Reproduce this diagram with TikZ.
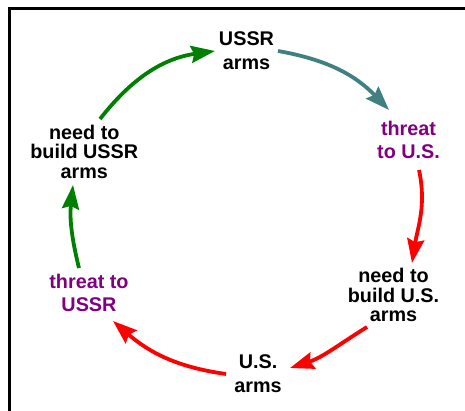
\documentclass[tikz,border=0pt]{standalone}
\usepackage{fontspec}
\setmainfont{Liberation Sans}
\usetikzlibrary{arrows.meta}
\definecolor{dgreen}{RGB}{0,128,0}
\definecolor{teal}{RGB}{64,128,128}
\definecolor{purp}{RGB}{128,0,128}
\definecolor{rred}{RGB}{255,0,0}
\begin{document}
\begin{tikzpicture}[x=1pt,y=1pt,
  lbl/.style={align=center,inner sep=0pt,font=\fontsize{19.8}{23.3}\selectfont\bfseries},
  lblthree/.style={align=center,inner sep=0pt,font=\fontsize{19.8}{19.5}\selectfont\bfseries},
  arr/.style={line width=3.8pt,-{Stealth[length=24pt,width=17pt,inset=3pt]}}]
\useasboundingbox (0,0) rectangle (465,410);
\draw[line width=3pt,miter limit=10] (470,401.5) -- (9.5,401.5) -- (9.5,-5);
\node[lbl] (ussr) at (246.5,359.3) {USSR\\arms};
\node[lbl,text=purp] (threatus) at (408.5,270) {threat\\to U.S.};
\node[lblthree] (needus) at (393.5,114.8) {need to\\build U.S.\\arms};
\node[lbl] (usarms) at (258,36.3) {U.S.\\arms};
\node[lbl,text=purp] (threatussr) at (89,117) {threat to\\USSR};
\node[lblthree] (needussr) at (84.3,258.3) {need to\\build USSR\\arms};
\draw[arr,dgreen] ([shift={(15.7,32.7)}]needussr.center) to[out=52,in=-172] ([shift={(-31.5,-0.3)}]ussr.center);
\draw[arr,teal] ([shift={(31.5,-0.3)}]ussr.center) to[out=-10,in=134] ([shift={(-19.5,30)}]threatus.center);
\draw[arr,rred] ([shift={(10.5,-30)}]threatus.center) to[out=-78,in=81] ([shift={(18.5,32.2)}]needus.center);
\draw[arr,rred] ([shift={(-26.5,-31.8)}]needus.center) to[out=212,in=18] ([shift={(32,5.7)}]usarms.center);
\draw[arr,rred] ([shift={(-32,-0.3)}]usarms.center) to[out=172,in=-41] ([shift={(24,-28)}]threatussr.center);
\draw[arr,dgreen] ([shift={(-10,25)}]threatussr.center) to[out=104,in=-96] ([shift={(-11.3,-33.3)}]needussr.center);
\end{tikzpicture}
\end{document}
